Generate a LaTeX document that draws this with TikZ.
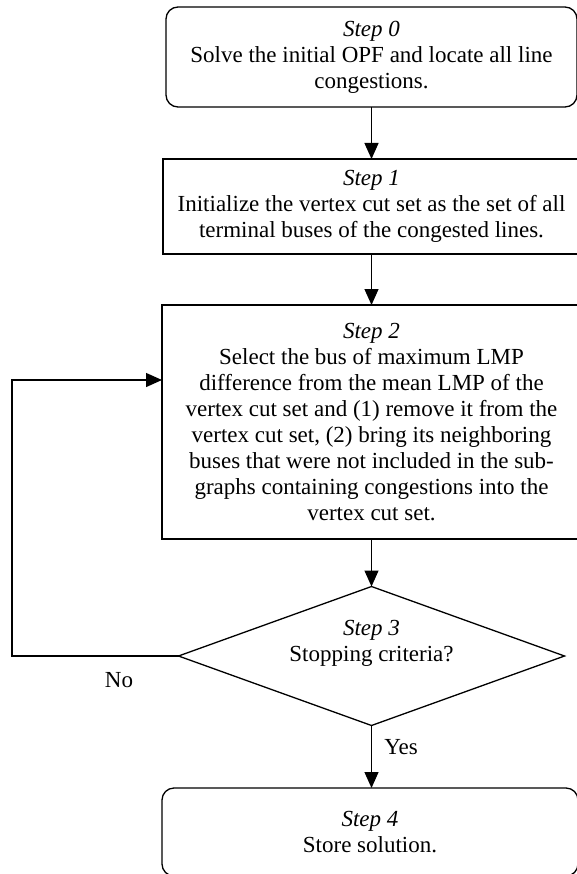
\documentclass[tikz,border=0pt]{standalone}
\usepackage{fontspec}
\setmainfont{Liberation Serif}
\usetikzlibrary{arrows.meta,shapes.geometric}
\begin{document}
\begin{tikzpicture}[x=1pt,y=1pt,
  every node/.style={font=\fontsize{23}{26}\selectfont, align=center, inner sep=0pt, outer sep=0pt},
  roundbox/.style={draw, line width=1.3pt, rounded corners=12pt},
  sqbox/.style={draw, line width=1.3pt},
  decision/.style={draw, line width=1.3pt, diamond, minimum width=386pt, minimum height=139pt},
  arr/.style={line width=1.3pt, -{Triangle[length=16pt,width=14pt]}},
  plain/.style={line width=1.3pt}
]
\useasboundingbox (0,0) rectangle (576,-874);

\node[roundbox, minimum width=411pt, minimum height=100pt] (s0) at (371.5,-57)
  {\textit{Step 0}\\Solve the initial OPF and locate all line\\congestions.};
\node[sqbox, minimum width=417pt, minimum height=95pt] (s1) at (371.5,-206.5)
  {\textit{Step 1}\\Initialize the vertex cut set as the set of all\\terminal buses of the congested lines.};
\node[sqbox, minimum width=419pt, minimum height=234pt] (s2) at (371.5,-422)
  {\textit{Step 2}\\Select the bus of maximum LMP\\difference from the mean LMP of the\\vertex cut set and (1) remove it from the\\vertex cut set, (2) bring its neighboring\\buses that were not included in the sub-\\graphs containing congestions into the\\vertex cut set.};
\node[decision] (s3) at (371.5,-656) {};
\node (s3t) at (371.5,-643) {\textit{Step 3}\\Stopping criteria?};
\node[roundbox, minimum width=416pt, minimum height=88pt] (s4) at (370,-832)
  {\textit{Step 4}\\Store solution.};

\node (no) at (119,-680) {No};
\node (yes) at (401,-747) {Yes};

\coordinate (lp1) at (12,-656);
\coordinate (lp2) at (12,-380);

\draw[arr] (s0.south) -- (s0.south |- s1.north);
\draw[arr] (s1.south) -- (s1.south |- s2.north);
\draw[arr] (s2.south) -- (s2.south |- s3.north);
\draw[arr] (s3.south) -- (s3.south |- s4.north);
\draw[arr] (s3.west) -- (lp1) -- (lp2) -- (lp2 -| s2.west);
\end{tikzpicture}
\end{document}
